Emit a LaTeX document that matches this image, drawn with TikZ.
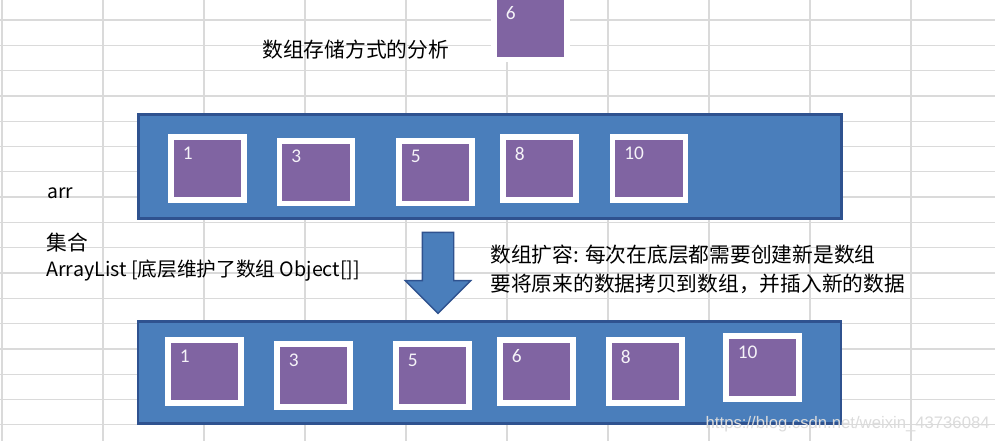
\documentclass[tikz,border=0pt]{standalone}
\usepackage{fontspec}
\setmainfont{Noto Sans CJK SC}
\newfontfamily\numfont{Carlito}
\newfontfamily\markfont{Liberation Sans}
\usetikzlibrary{positioning, shapes.arrows, shadows}

\definecolor{boxblue}{HTML}{4A7EBB}
\definecolor{boxline}{HTML}{2F528F}
\definecolor{cellpurple}{HTML}{8064A2}
\definecolor{gridgray}{HTML}{DADADA}

\begin{document}
\begin{tikzpicture}[
    x=0.02cm, y=-0.02cm,
    arrbox/.style={rectangle, draw=boxline, line width=1.6pt, fill=boxblue, minimum width=14.06cm, minimum height=2.08cm},
    cell/.style={rectangle, draw=white, line width=3.4pt, fill=cellpurple, minimum width=1.46cm, minimum height=1.26cm,
        drop shadow={opacity=0.3, shadow xshift=0.7pt, shadow yshift=-0.9pt}},
    num/.style={anchor=north west, inner sep=0pt, xshift=0.29cm, yshift=-0.25cm, text=white!92!cellpurple,
        font=\numfont\fontsize{11}{13}\selectfont},
    cn/.style={anchor=west, inner sep=0pt, font=\fontsize{11.8}{14}\selectfont},
    bigarrow/.style={single arrow, draw=boxline, line width=0.8pt, fill=boxblue, shape border rotate=270,
        inner sep=0.3cm, single arrow head extend=0.34cm, single arrow tip angle=90, minimum height=1.62cm}
]
\useasboundingbox (0,0) rectangle (995,441);
\clip (0,0) rectangle (995,441);

% sheet grid
\fill[white] (0,0) rectangle (995,441);
\foreach \x in {2,103,...,913}
    \draw[gridgray, line width=0.7pt] (\x,0) -- (\x,441);
\foreach \y in {20,45.3,...,430}
    \draw[gridgray, line width=0.7pt] (0,\y) -- (995,\y);

% texts
\node[cn] (title) at (262,50) {数组存储方式的分析};
\node[cn, font=\fontsize{11}{13}\selectfont] (arr) at (47,193) {arr};
\node[cn] (coll) at (46,243) {集合};
\node[cn, font=\fontsize{11.2}{13}\selectfont] (alist) at (46,271) {ArrayList [底层维护了数组 Object[]]};
\node[cn] (grow1) at (490,255) {数组扩容: 每次在底层都需要创建新是数组};
\node[cn] (grow2) at (490,284) {要将原来的数据拷贝到数组，并插入新的数据};

% the element to add
\node[cell, label={[num]north west:6}] (new6) at (530.5,28) {};

% old array
\node[arrbox] (old) at (490,166.5) {};
\node[cell, label={[num]north west:1}] (o1) at (207.5,168.5) {};
\node[cell, label={[num]north west:3}] (o3) at (316,172) {};
\node[cell, label={[num]north west:5}] (o5) at (435.5,172) {};
\node[cell, label={[num]north west:8}] (o8) at (539.5,168.5) {};
\node[cell, label={[num]north west:10}] (o10) at (649,168.5) {};

% grow arrow
\node[bigarrow] (grow) at (438,265) {};

% new array
\node[arrbox, minimum height=2.04cm] (new) at (489.5,372.5) {};
\node[cell, label={[num]north west:1}] (n1) at (204.5,371.5) {};
\node[cell, label={[num]north west:3}] (n3) at (313.5,375.5) {};
\node[cell, label={[num]north west:5}] (n5) at (432.5,375.5) {};
\node[cell, label={[num]north west:6}] (n6) at (536.5,371.5) {};
\node[cell, label={[num]north west:8}] (n8) at (645.5,371.5) {};
\node[cell, label={[num]north west:10}] (n10) at (762.5,367.5) {};

% watermark
\node[anchor=east, inner sep=0pt, text=white!72!gray, font=\markfont\fontsize{9.5}{12}\selectfont] (mark) at (990,424) {https://blog.csdn.net/weixin\_43736084};
\end{tikzpicture}
\end{document}
